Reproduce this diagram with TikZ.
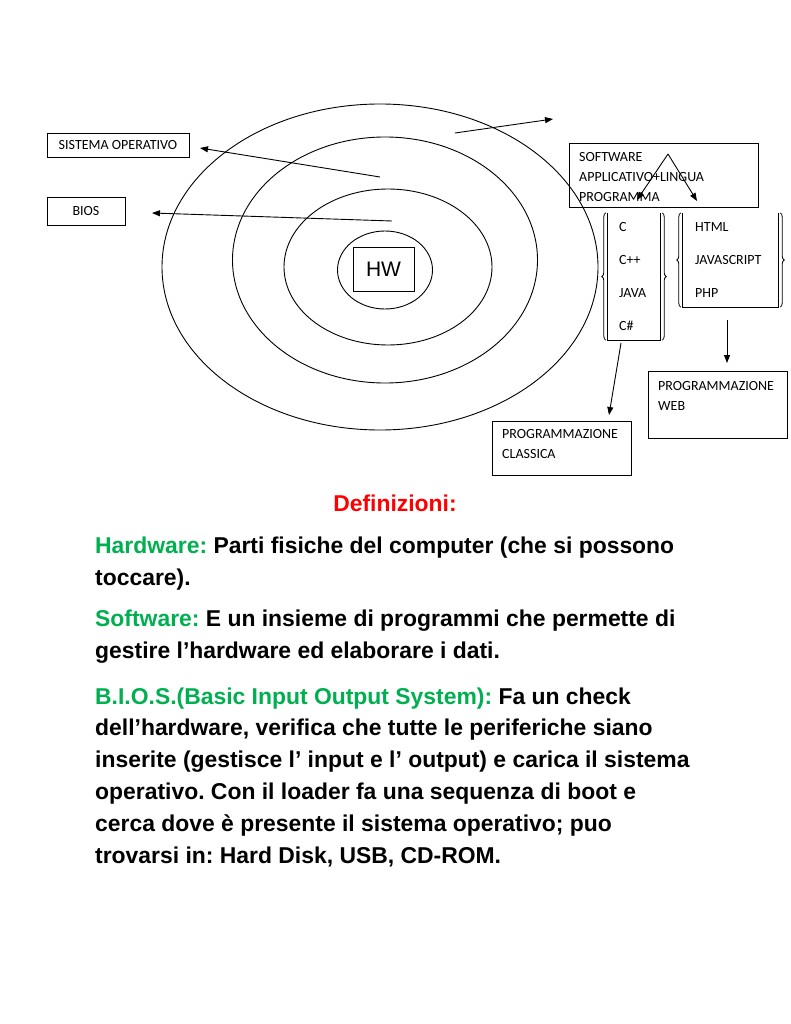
\documentclass[tikz,border=0pt]{standalone}
\usepackage{fontspec}
\setmainfont{Liberation Sans}
\newfontfamily\calibri{Carlito}
\usepackage{xcolor}
\usetikzlibrary{shapes.geometric, arrows.meta, positioning, decorations.pathreplacing}

\definecolor{defgreen}{HTML}{00B050}
\definecolor{defred}{HTML}{FF0000}
\frenchspacing

\begin{document}
\begin{tikzpicture}[
    x=1pt, y=-1pt,
    ring/.style={ellipse, draw, line width=0.9pt, inner sep=0pt},
    box/.style={rectangle, draw, line width=0.9pt, inner sep=0pt, font=\calibri\fontsize{14}{17}\selectfont},
    lbl/.style={anchor=base west, inner sep=0pt, align=left, font=\calibri\fontsize{14}{20}\selectfont},
    listlbl/.style={lbl, font=\calibri\fontsize{14}{33}\selectfont},
    defn/.style={anchor=base west, inner sep=0pt, align=left, font=\bfseries\fontsize{22.9}{31.8}\selectfont},
    arrow/.style={line width=0.9pt, -{Triangle[length=8pt, width=6pt]}},
    bracebar/.style={decorate, decoration={brace, amplitude=4pt}, line width=0.8pt}
]
    \useasboundingbox[fill=white] (0,0) rectangle (791,1024);

    % layers round the hardware
    \node [ring, minimum width=436pt, minimum height=326pt] (ring4) at (380,267) {};
    \node [ring, minimum width=305pt, minimum height=246pt] (ring3) at (385,260) {};
    \node [ring, minimum width=208pt, minimum height=156pt] (ring2) at (388,267) {};
    \node [ring, minimum width=95pt, minimum height=78pt] (ring1) at (385,270) {};
    \node [rectangle, draw, line width=0.9pt, minimum width=61pt, minimum height=44pt, font=\fontsize{21}{25}\selectfont] (hw) at (383.5,269) {HW};

    % boxes on the left
    \node [box, minimum width=142pt, minimum height=24pt] (sisop) at (118,145) {SISTEMA OPERATIVO};
    \node [box, minimum width=78pt, minimum height=28pt] (bios) at (86,211) {BIOS};

    % software box and languages (base = last line)
    \node [box, minimum width=189pt, minimum height=64pt] (sw) at (663.5,175) {};
    \node [lbl] (swtext) at (579,202) {SOFTWARE\\APPLICATIVO+LINGUA\\PROGRAMMA};

    \node [rectangle, inner sep=0pt, minimum width=52pt, minimum height=127pt] (langc) at (634,276.5) {};
    \node [listlbl] (langctext) at (619,330) {C\\C++\\JAVA\\C\#};
    \node [rectangle, inner sep=0pt, minimum width=95pt, minimum height=94pt] (langw) at (730.5,260) {};
    \node [listlbl] (langwtext) at (695,297) {HTML\\JAVASCRIPT\\PHP};

    \draw [line width=0.8pt] (langc.north west) -- (langc.south west) -- (langc.south east) -- (langc.north east);
    \draw [line width=0.8pt] (langw.north west) -- (langw.south west) -- (langw.south east) -- (langw.north east);
    \draw [bracebar] ([xshift=-2pt]langc.south west) -- ([xshift=-2pt]langc.north west);
    \draw [bracebar] ([xshift=2pt]langc.north east) -- ([xshift=2pt]langc.south east);
    \draw [bracebar] ([xshift=-2pt]langw.south west) -- ([xshift=-2pt]langw.north west);
    \draw [bracebar] ([xshift=2pt]langw.north east) -- ([xshift=2pt]langw.south east);

    \node [box, minimum width=139pt, minimum height=54pt] (classica) at (561.5,448) {};
    \node [lbl] (classicatext) at (502,458) {PROGRAMMAZIONE\\CLASSICA};
    \node [box, minimum width=139pt, minimum height=67pt] (web) at (717.5,404.5) {};
    \node [lbl] (webtext) at (658,410) {PROGRAMMAZIONE\\WEB};

    % arrow ends
    \coordinate (outsrc) at (455,133);
    \coordinate (outtip) at (553,119);
    \coordinate (sosrc) at (380,177);
    \coordinate (sotip) at (200,148);
    \coordinate (biossrc) at (392,221);
    \coordinate (biostip) at (152,213);
    \coordinate (apex) at (668,154);
    \coordinate (ctip) at (637,200);
    \coordinate (wtip) at (697,201);
    \coordinate (csrc) at (621,343);
    \coordinate (classtip) at (609,415);
    \coordinate (wsrc) at (727,320);
    \coordinate (webtip) at (727,363);

    \draw [arrow] (outsrc) -- (outtip);
    \draw [arrow] (sosrc) -- (sotip);
    \draw [arrow] (biossrc) -- (biostip);
    \draw [arrow] (apex) -- (ctip);
    \draw [arrow] (apex) -- (wtip);
    \draw [arrow] (csrc) -- (classtip);
    \draw [arrow] (wsrc) -- (webtip);

    % definitions (base = last line)
    \node [anchor=base, inner sep=0pt, font=\bfseries\fontsize{22.9}{27}\selectfont, text=defred] (deftitle) at (395,511) {Definizioni:};
    \node [defn] (defhw) at (95,585) {\textcolor{defgreen}{Hardware:} Parti fisiche del computer (che si possono\\toccare).};
    \node [defn] (defsw) at (95,658) {\textcolor{defgreen}{Software:} E un insieme di programmi che permette di\\gestire l’hardware ed elaborare i dati.};
    \node [defn] (defbios) at (95,863) {\textcolor{defgreen}{B.I.O.S.(Basic Input Output System):} Fa un check\\dell’hardware, verifica che tutte le periferiche siano\\inserite (gestisce l’ input e l’ output) e carica il sistema\\operativo. Con il loader fa una sequenza di boot e\\cerca dove è presente il sistema operativo; puo\\trovarsi in: Hard Disk, USB, CD-ROM.};
\end{tikzpicture}
\end{document}
